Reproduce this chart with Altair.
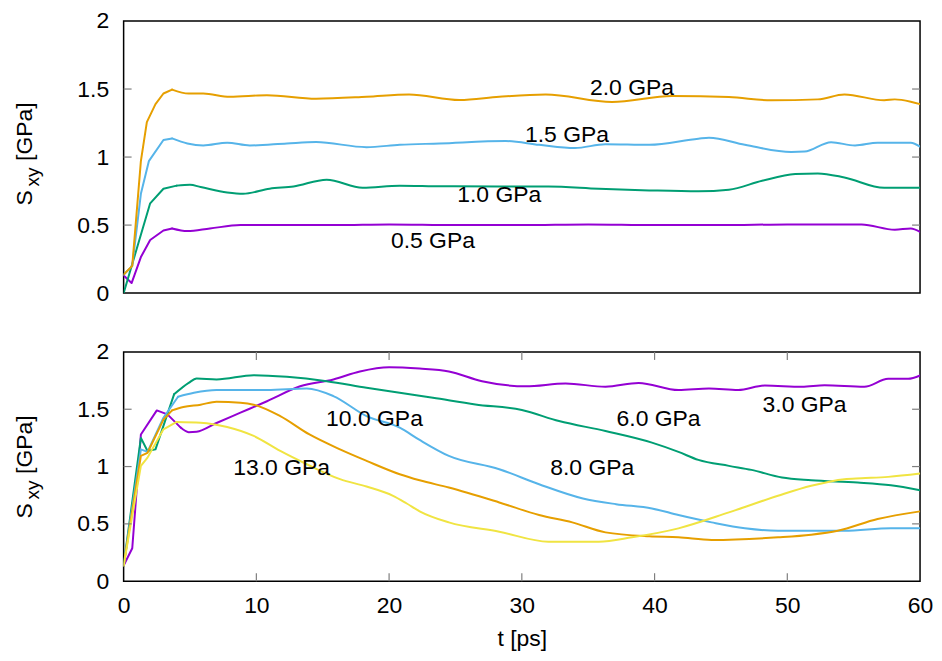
import altair as alt
import pandas as pd

# ---------------- data ----------------
# top panel
t_05 = [0, 0.6, 1.3, 2.0, 3.0, 3.65, 4.8, 6.5, 8.8, 12, 16, 20, 25, 30, 35, 40, 45, 50, 55.6, 58.1, 59.3, 60]
v_05 = [0.13, 0.074, 0.265, 0.39, 0.46, 0.475, 0.456, 0.475, 0.50, 0.50, 0.50, 0.505, 0.50, 0.50, 0.505, 0.50, 0.50, 0.505, 0.504, 0.466, 0.475, 0.45]

t_10 = [0, 2.0, 3.0, 4.0, 5.0, 5.8, 7.8, 9.0, 11, 12.8, 15.3, 18, 20.8, 24, 28.3, 32, 35.8, 39.6, 43.3, 45.6, 48.1, 50.6, 52.3, 54.3, 57.3, 60]
v_10 = [0.0, 0.66, 0.767, 0.79, 0.796, 0.78, 0.74, 0.73, 0.767, 0.784, 0.834, 0.774, 0.79, 0.785, 0.784, 0.784, 0.767, 0.755, 0.748, 0.76, 0.826, 0.875, 0.88, 0.85, 0.774, 0.774]

t_15 = [0, 0.65, 1.3, 1.9, 3.0, 3.65, 4.8, 6.0, 7.8, 9.5, 12.3, 14.5, 18.3, 20.8, 23.8, 28.8, 31.3, 34, 36.3, 39.6, 43.3, 44.1, 46.8, 50.3, 51.3, 53.3, 55.1, 56.8, 59.3, 60]
v_15 = [0.134, 0.2, 0.73, 0.97, 1.125, 1.137, 1.10, 1.085, 1.106, 1.085, 1.10, 1.11, 1.073, 1.09, 1.10, 1.118, 1.09, 1.066, 1.095, 1.09, 1.135, 1.142, 1.09, 1.037, 1.04, 1.109, 1.085, 1.106, 1.106, 1.077]

t_20 = [0, 0.65, 1.3, 1.75, 2.4, 3.0, 3.65, 4.9, 6.0, 8.0, 10.8, 14.5, 18.3, 21.5, 25.3, 28.3, 31.8, 36.8, 41.3, 45.6, 48.8, 52.3, 54.3, 57.3, 58.1, 59.3, 60]
v_20 = [0.136, 0.2, 0.97, 1.257, 1.389, 1.467, 1.496, 1.467, 1.467, 1.443, 1.455, 1.429, 1.443, 1.46, 1.419, 1.443, 1.46, 1.405, 1.448, 1.441, 1.417, 1.424, 1.46, 1.417, 1.424, 1.407, 1.389]

# bottom panel
t_30 = [0, 0.65, 1.3, 2.5, 3.3, 4.3, 4.9, 5.5, 7.0, 8.8, 10.8, 13.3, 15.8, 17.8, 20.0, 22.3, 24.5, 27, 30.3, 33.3, 36.3, 38.8, 41.8, 44.1, 46.3, 48.3, 51.1, 52.8, 55.8, 57.6, 59.1, 60]
v_30 = [0.136, 0.287, 1.28, 1.49, 1.455, 1.34, 1.30, 1.304, 1.38, 1.47, 1.57, 1.70, 1.76, 1.83, 1.867, 1.855, 1.83, 1.745, 1.70, 1.725, 1.696, 1.73, 1.667, 1.681, 1.667, 1.707, 1.696, 1.71, 1.696, 1.765, 1.765, 1.794]

t_60 = [0, 1.3, 1.8, 2.4, 3.8, 4.9, 5.5, 7.0, 9.8, 12.3, 15.3, 18.3, 20.8, 23.3, 26.5, 30, 32.8, 36.3, 39.8, 41.8, 43.3, 45.6, 47.3, 49.6, 51.8, 55.3, 57.8, 60]
v_60 = [0.136, 1.25, 1.136, 1.15, 1.63, 1.73, 1.768, 1.76, 1.797, 1.783, 1.745, 1.687, 1.643, 1.60, 1.542, 1.493, 1.397, 1.31, 1.209, 1.128, 1.058, 1.006, 0.971, 0.904, 0.881, 0.861, 0.837, 0.794]

t_80 = [0, 1.3, 1.8, 3.0, 4.1, 5.3, 7.0, 10.8, 13.8, 15.8, 18.3, 20.8, 22.3, 24.5, 28.3, 31.3, 34.6, 37.1, 39.8, 41.8, 44.3, 46.8, 49.3, 54.3, 57.8, 60]
v_80 = [0.136, 1.15, 1.128, 1.426, 1.609, 1.643, 1.667, 1.667, 1.681, 1.615, 1.44, 1.339, 1.232, 1.093, 0.977, 0.846, 0.722, 0.672, 0.635, 0.577, 0.513, 0.461, 0.44, 0.44, 0.461, 0.461]

t_100 = [0, 1.3, 1.8, 3.0, 3.65, 4.5, 5.8, 7.0, 8.8, 9.8, 11.8, 14, 16.3, 18.3, 20.8, 22.3, 24.5, 28.3, 31.3, 33.8, 36.3, 39.6, 41.8, 44.3, 49.3, 51.8, 53.8, 56.8, 60]
v_100 = [0.136, 1.093, 1.12, 1.41, 1.49, 1.52, 1.54, 1.565, 1.557, 1.54, 1.44, 1.28, 1.15, 1.05, 0.933, 0.88, 0.817, 0.687, 0.577, 0.513, 0.426, 0.391, 0.383, 0.36, 0.383, 0.406, 0.44, 0.542, 0.609]

t_130 = [0, 1.3, 1.8, 3.0, 4.0, 5.8, 7.8, 9.8, 11.8, 13.8, 16.3, 18.3, 20.3, 21.3, 22.3, 24.5, 28.3, 32, 35.8, 38.3, 41.8, 45.6, 49.3, 51.8, 54.3, 55.6, 57.6, 60]
v_130 = [0.136, 1.006, 1.078, 1.325, 1.389, 1.383, 1.345, 1.267, 1.136, 1.02, 0.89, 0.826, 0.745, 0.68, 0.61, 0.513, 0.432, 0.345, 0.345, 0.383, 0.461, 0.60, 0.745, 0.832, 0.89, 0.898, 0.91, 0.939]

# curve annotations (label, t, value)
top_labels = ["2.0 GPa", "1.5 GPa", "1.0 GPa", "0.5 GPa"]
top_label_t = [38.3, 33.4, 28.3, 23.3]
top_label_v = [1.51, 1.16, 0.72, 0.384]
bot_labels = ["10.0 GPa", "13.0 GPa", "8.0 GPa", "6.0 GPa", "3.0 GPa"]
bot_label_t = [18.9, 11.9, 35.3, 40.3, 51.3]
bot_label_v = [1.417, 0.99, 0.99, 1.417, 1.535]

series_names = ["0.5", "1.0", "1.5", "2.0", "3.0", "6.0", "8.0", "10.0", "13.0"]
series_colors = ["#9400D3", "#009E73", "#56B4E9", "#E69F00",
                 "#9400D3", "#009E73", "#56B4E9", "#E69F00", "#F0E442"]

x_tick_values = [0, 10, 20, 30, 40, 50, 60]
x_inner_ticks = [10, 20, 30, 40, 50]
y_tick_values = [0, 0.5, 1, 1.5, 2]
y_inner_ticks = [0.5, 1, 1.5]

x_title = "t [ps]"
y_title_parts = ["S", "xy", "[GPa]"]

# ---------------- build ----------------
SMOOTH_FROM = 3.6  # the start-up transient is drawn with straight segments, the rest smoothly


def long_df(pairs):
    rows = []
    for name, ts, vs in pairs:
        cut = min(t for t in ts if t >= SMOOTH_FROM)
        for t, v in zip(ts, vs):
            if t <= cut:
                rows.append({"series": name, "part": "a", "t": t, "v": v})
            if t >= cut:
                rows.append({"series": name, "part": "b", "t": t, "v": v})
    return pd.DataFrame(rows)

top_df = long_df([("0.5", t_05, v_05), ("1.0", t_10, v_10), ("1.5", t_15, v_15), ("2.0", t_20, v_20)])
bot_df = long_df([("3.0", t_30, v_30), ("6.0", t_60, v_60), ("8.0", t_80, v_80),
                  ("10.0", t_100, v_100), ("13.0", t_130, v_130)])
top_lab_df = pd.DataFrame({"label": top_labels, "t": top_label_t, "v": top_label_v})
bot_lab_df = pd.DataFrame({"label": bot_labels, "t": bot_label_t, "v": bot_label_v})

FONT = "Liberation Sans"
FS = 23
W = 799
TICK_COL = "#7f7f7f"
TL = 8

xscale = alt.Scale(domain=[0, 60], nice=False, zero=False)
yscale = alt.Scale(domain=[0, 2], nice=False, zero=False)
cscale = alt.Scale(domain=series_names, range=series_colors)

yaxis = alt.Axis(values=y_tick_values, format="~g", ticks=False, domain=False, grid=False,
                 labelFlush=False,
                 labelFont=FONT, labelFontSize=FS, labelColor="black", labelPadding=15, title=None)


def panel(df, lab_df, H, xaxis, xticks, tc):
    X = lambda: alt.X("t:Q", scale=xscale, axis=xaxis)
    Y = lambda: alt.Y("v:Q", scale=yscale, axis=yaxis)
    early = alt.Chart(df).transform_filter(alt.datum.part == "a").mark_line(
        strokeWidth=2, clip=True, strokeCap="round", strokeJoin="round").encode(
        x=X(), y=Y(),
        color=alt.Color("series:N", scale=cscale, legend=None),
    )
    late = alt.Chart(df).transform_filter(alt.datum.part == "b").mark_line(
        strokeWidth=2, clip=True, interpolate="monotone", strokeCap="round").encode(
        x=X(), y=Y(),
        color=alt.Color("series:N", scale=cscale, legend=None),
    )
    labels = alt.Chart(lab_df).mark_text(font=FONT, fontSize=FS, color="black",
                                         align="center", baseline="middle").encode(
        x=X(), y=Y(), text="label:N",
    )
    ydf = pd.DataFrame({"v": y_inner_ticks})
    yl = alt.Chart(ydf).mark_rule(color=TICK_COL, strokeWidth=1.2).encode(
        y=Y(), x=alt.value(0), x2=alt.value(TL))
    yr = alt.Chart(ydf).mark_rule(color=TICK_COL, strokeWidth=1.2).encode(
        y=Y(), x=alt.value(W), x2=alt.value(W - TL))
    layers = [early, late, labels, yl, yr]
    if xticks:
        xdf = pd.DataFrame({"t": x_inner_ticks})
        xb = alt.Chart(xdf).mark_rule(color=TICK_COL, strokeWidth=1.2).encode(
            x=X(), y=alt.value(H), y2=alt.value(H - TL))
        xt = alt.Chart(xdf).mark_rule(color=TICK_COL, strokeWidth=1.2).encode(
            x=X(), y=alt.value(0), y2=alt.value(TL))
        layers += [xb, xt]
    # y-axis title with subscript, as rotated text pieces
    tdf = pd.DataFrame({"s": [0]})
    ts = alt.Chart(tdf).mark_text(font=FONT, fontSize=FS, angle=270, align="center",
                                  baseline="alphabetic", color="black").encode(
        x=alt.value(-92), y=alt.value(tc + 44.5), text=alt.value(y_title_parts[0]))
    txy = alt.Chart(tdf).mark_text(font=FONT, fontSize=19, angle=270, align="center",
                                   baseline="alphabetic", color="black").encode(
        x=alt.value(-85), y=alt.value(tc + 23.5), text=alt.value(y_title_parts[1]))
    tg = alt.Chart(tdf).mark_text(font=FONT, fontSize=FS, angle=270, align="center",
                                  baseline="alphabetic", color="black").encode(
        x=alt.value(-92), y=alt.value(tc - 22), text=alt.value(y_title_parts[2]))
    layers += [ts, txy, tg]
    return alt.layer(*layers).properties(width=W, height=H)


top = panel(top_df, top_lab_df, 273, None, False, 133)
bottom_xaxis = alt.Axis(values=x_tick_values, ticks=False, domain=False, grid=False,
                        labelFlush=False,
                        labelFont=FONT, labelFontSize=FS, labelColor="black", labelPadding=13,
                        title=x_title, titleFont=FONT, titleFontSize=FS, titleFontWeight="normal",
                        titleColor="black", titlePadding=11)
bottom = panel(bot_df, bot_lab_df, 230, bottom_xaxis, True, 115)

chart = alt.vconcat(top, bottom, spacing=34).properties(
    padding={"left": 5, "top": 0, "right": 0, "bottom": 0},
    background="white",
).configure_view(stroke="black", strokeWidth=1.5)

chart.save("out.html", embed_options={"renderer": "svg", "actions": False})
